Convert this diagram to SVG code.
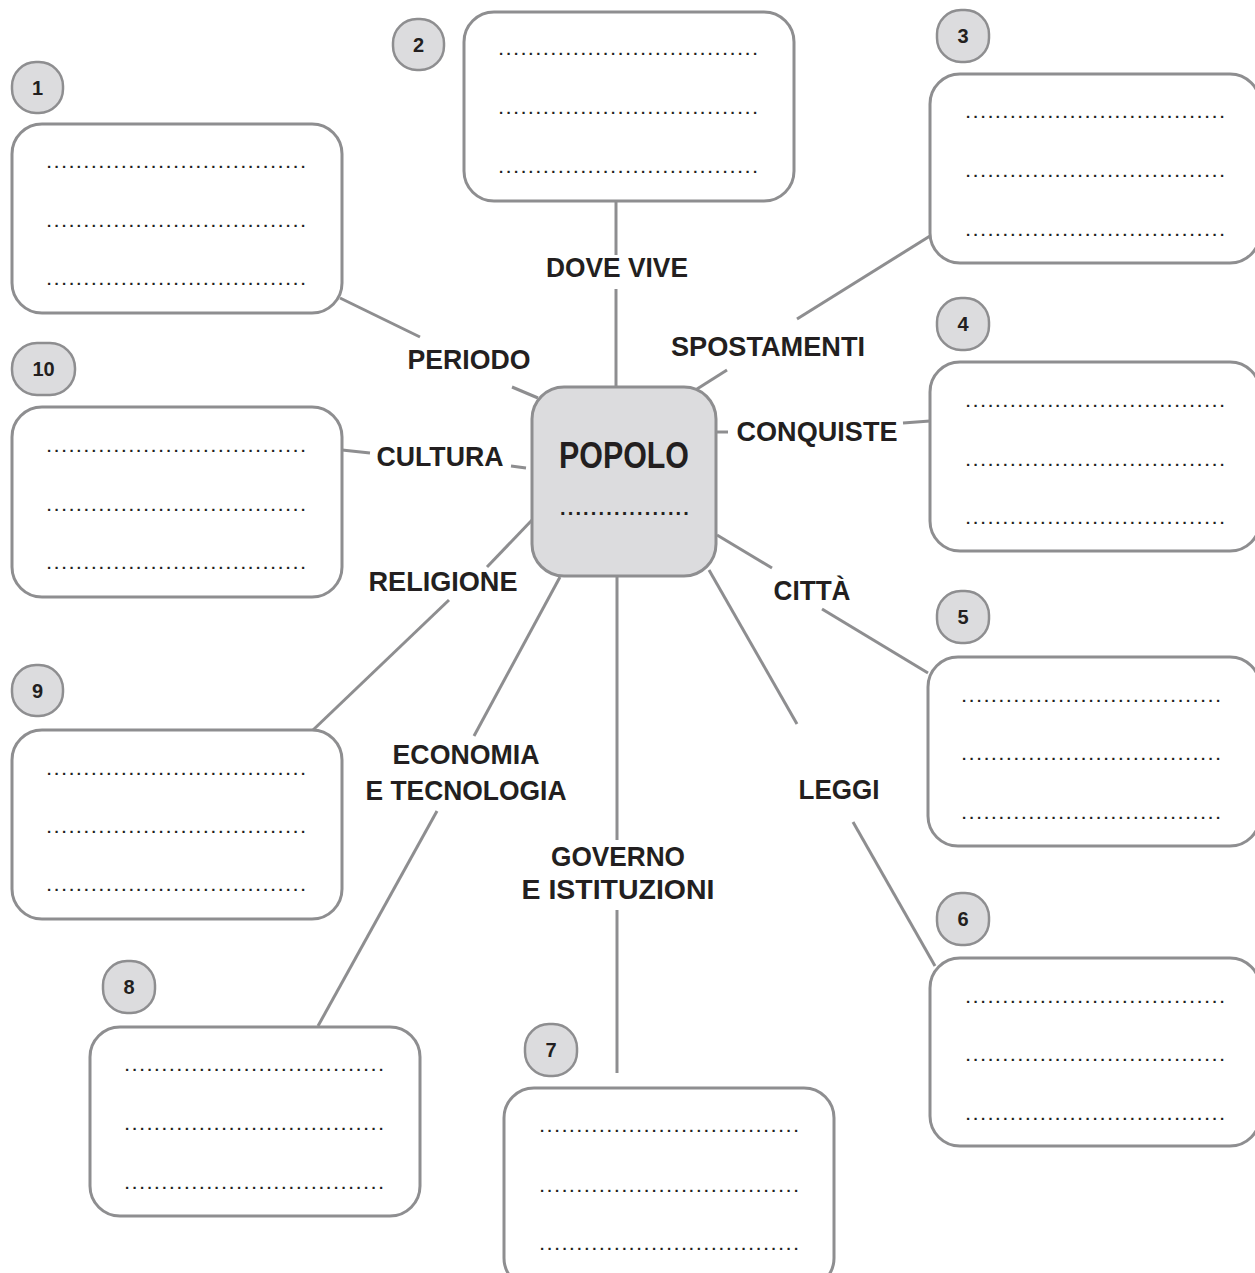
<svg xmlns="http://www.w3.org/2000/svg" width="1255" height="1273" viewBox="0 0 1255 1273">
<style>
.box{fill:#fff;stroke:#8e8e90;stroke-width:3}
.badge{fill:#dcdcde;stroke:#8e8e90;stroke-width:2.5}
.num{font-family:"Liberation Sans",Arial,sans-serif;font-weight:bold;font-size:20px;fill:#231f20;text-anchor:middle}
.dots{font-family:"Liberation Sans",Arial,sans-serif;font-weight:bold;font-size:15px;fill:#231f20;letter-spacing:3.3px}
.lbl{font-family:"Liberation Sans",Arial,sans-serif;font-weight:bold;font-size:28px;fill:#231f20;text-anchor:middle}
.conn line{stroke:#8e8e90;stroke-width:3}
</style>
<rect width="1255" height="1273" fill="#fff"/>
<g id="connectors" class="conn">
<line x1="616" y1="201" x2="616" y2="255"/>
<line x1="616" y1="289" x2="616" y2="388"/>
<line x1="340" y1="298" x2="420" y2="337"/>
<line x1="512" y1="387" x2="538" y2="398"/>
<line x1="930" y1="236" x2="797" y2="319"/>
<line x1="727" y1="370" x2="697" y2="389"/>
<line x1="903" y1="423" x2="930" y2="421"/>
<line x1="717" y1="432" x2="728" y2="432"/>
<line x1="342" y1="450" x2="370" y2="453"/>
<line x1="511" y1="466" x2="526" y2="468"/>
<line x1="313" y1="730" x2="449" y2="600"/>
<line x1="487" y1="567" x2="533" y2="519"/>
<line x1="318" y1="1026" x2="437" y2="811"/>
<line x1="474" y1="736" x2="560" y2="577"/>
<line x1="617" y1="1073" x2="617" y2="910"/>
<line x1="617" y1="840" x2="617" y2="577"/>
<line x1="935" y1="966" x2="853" y2="822"/>
<line x1="797" y1="724" x2="709" y2="570"/>
<line x1="928" y1="673" x2="822" y2="609"/>
<line x1="717" y1="535" x2="772" y2="568"/>
</g>
<g id="labels">
<text class="lbl" x="617" y="277" textLength="142" lengthAdjust="spacingAndGlyphs">DOVE VIVE</text>
<text class="lbl" x="469" y="369" textLength="123" lengthAdjust="spacingAndGlyphs">PERIODO</text>
<text class="lbl" x="768" y="356" textLength="194" lengthAdjust="spacingAndGlyphs">SPOSTAMENTI</text>
<text class="lbl" x="817" y="441" textLength="161" lengthAdjust="spacingAndGlyphs">CONQUISTE</text>
<text class="lbl" x="440" y="466" textLength="127" lengthAdjust="spacingAndGlyphs">CULTURA</text>
<text class="lbl" x="443" y="591" textLength="149" lengthAdjust="spacingAndGlyphs">RELIGIONE</text>
<text class="lbl" x="812" y="600" textLength="77" lengthAdjust="spacingAndGlyphs">CITTÀ</text>
<text class="lbl" x="466" y="764" textLength="147" lengthAdjust="spacingAndGlyphs">ECONOMIA</text>
<text class="lbl" x="466" y="800" textLength="201" lengthAdjust="spacingAndGlyphs">E TECNOLOGIA</text>
<text class="lbl" x="839" y="799" textLength="81" lengthAdjust="spacingAndGlyphs">LEGGI</text>
<text class="lbl" x="618" y="866" textLength="134" lengthAdjust="spacingAndGlyphs">GOVERNO</text>
<text class="lbl" x="618" y="899" textLength="193" lengthAdjust="spacingAndGlyphs">E ISTITUZIONI</text>
</g>
<g id="center">
<rect x="532" y="387" width="184" height="189" rx="32" fill="#dcdcde" stroke="#8e8e90" stroke-width="3"/>
<text x="624" y="468" font-family="'Liberation Sans',Arial,sans-serif" font-weight="bold" font-size="36" fill="#231f20" text-anchor="middle" textLength="130" lengthAdjust="spacingAndGlyphs">POPOLO</text>
<text x="560" y="515" font-family="'Liberation Sans',Arial,sans-serif" font-weight="bold" font-size="20" fill="#231f20" letter-spacing="2.15">.................</text>
</g>
<g id="node1">
<rect class="box" x="12" y="124" width="330" height="189" rx="30"/>
<rect class="badge" x="12" y="62" width="51" height="51" rx="24"/>
<text class="num" x="37.5" y="95">1</text>
<text class="dots" x="47" y="168">...................................</text>
<text class="dots" x="47" y="227">...................................</text>
<text class="dots" x="47" y="285">...................................</text>
</g>
<g id="node2">
<rect class="box" x="464" y="12" width="330" height="189" rx="30"/>
<rect class="badge" x="393" y="19" width="51" height="51" rx="24"/>
<text class="num" x="418.5" y="52">2</text>
<text class="dots" x="499" y="55">...................................</text>
<text class="dots" x="499" y="114">...................................</text>
<text class="dots" x="499" y="173">...................................</text>
</g>
<g id="node3">
<rect class="box" x="930" y="74" width="330" height="189" rx="30"/>
<rect class="badge" x="937" y="10" width="52" height="52" rx="24"/>
<text class="num" x="963" y="43">3</text>
<text class="dots" x="966" y="118">...................................</text>
<text class="dots" x="966" y="177">...................................</text>
<text class="dots" x="966" y="236">...................................</text>
</g>
<g id="node4">
<rect class="box" x="930" y="362" width="330" height="189" rx="30"/>
<rect class="badge" x="937" y="298" width="52" height="52" rx="24"/>
<text class="num" x="963" y="331">4</text>
<text class="dots" x="966" y="407">...................................</text>
<text class="dots" x="966" y="466">...................................</text>
<text class="dots" x="966" y="524">...................................</text>
</g>
<g id="node5">
<rect class="box" x="928" y="657" width="332" height="189" rx="30"/>
<rect class="badge" x="937" y="591" width="52" height="52" rx="24"/>
<text class="num" x="963" y="624">5</text>
<text class="dots" x="962" y="702">...................................</text>
<text class="dots" x="962" y="760">...................................</text>
<text class="dots" x="962" y="819">...................................</text>
</g>
<g id="node6">
<rect class="box" x="930" y="958" width="330" height="188" rx="30"/>
<rect class="badge" x="937" y="893" width="52" height="52" rx="24"/>
<text class="num" x="963" y="926">6</text>
<text class="dots" x="966" y="1003">...................................</text>
<text class="dots" x="966" y="1061">...................................</text>
<text class="dots" x="966" y="1120">...................................</text>
</g>
<g id="node7">
<rect class="box" x="504" y="1088" width="330" height="200" rx="30"/>
<rect class="badge" x="525" y="1024" width="52" height="52" rx="24"/>
<text class="num" x="551" y="1057">7</text>
<text class="dots" x="540" y="1132">...................................</text>
<text class="dots" x="540" y="1192">...................................</text>
<text class="dots" x="540" y="1250">...................................</text>
</g>
<g id="node8">
<rect class="box" x="90" y="1027" width="330" height="189" rx="30"/>
<rect class="badge" x="103" y="961" width="52" height="52" rx="24"/>
<text class="num" x="129" y="994">8</text>
<text class="dots" x="125" y="1071">...................................</text>
<text class="dots" x="125" y="1130">...................................</text>
<text class="dots" x="125" y="1189">...................................</text>
</g>
<g id="node9">
<rect class="box" x="12" y="730" width="330" height="189" rx="30"/>
<rect class="badge" x="12" y="665" width="51" height="51" rx="24"/>
<text class="num" x="37.5" y="698">9</text>
<text class="dots" x="47" y="775">...................................</text>
<text class="dots" x="47" y="833">...................................</text>
<text class="dots" x="47" y="891">...................................</text>
</g>
<g id="node10">
<rect class="box" x="12" y="407" width="330" height="190" rx="30"/>
<rect class="badge" x="12" y="343" width="63" height="52" rx="25"/>
<text class="num" x="43.5" y="376">10</text>
<text class="dots" x="47" y="452">...................................</text>
<text class="dots" x="47" y="511">...................................</text>
<text class="dots" x="47" y="569">...................................</text>
</g>
</svg>
